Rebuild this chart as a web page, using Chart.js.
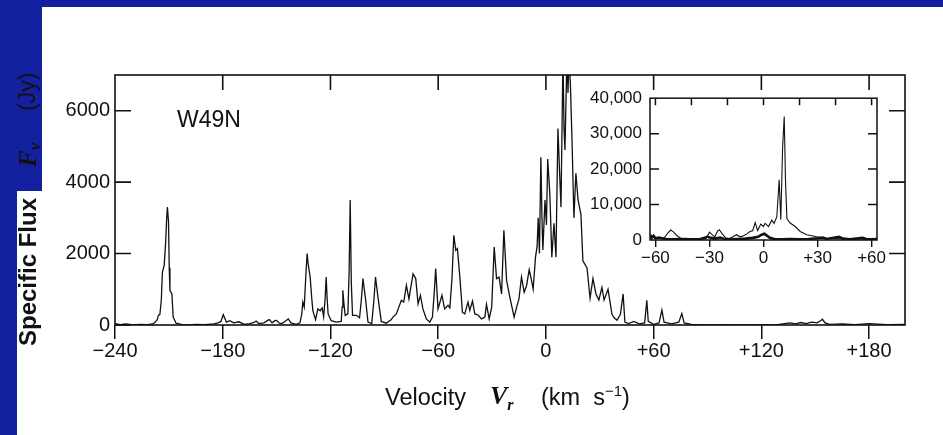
<!DOCTYPE html>
<html>
<head>
<meta charset="utf-8">
<script src="https://cdn.jsdelivr.net/npm/chart.js@4.4.1/dist/chart.umd.min.js"></script>
<style>
  html, body { margin:0; padding:0; background:#fff; }
  body { width:943px; height:435px; position:relative; overflow:hidden; font-family:"Liberation Sans", Arial, sans-serif; color:#111; }
  .blue { position:absolute; background:#1321a1; }
  canvas { position:absolute; }
  .txt { position:absolute; white-space:pre; color:#111; }
  .rot { position:absolute; white-space:pre; transform:rotate(-90deg); transform-origin:0 0; color:#111; }
</style>
</head>
<body>
<div class="blue" style="left:0;top:0;width:943px;height:7px"></div>
<div class="blue" style="left:0;top:0;width:17px;height:435px"></div>
<div class="blue" style="left:0;top:0;width:42px;height:191px"></div>

<canvas id="main" width="943" height="435" style="left:0;top:0"></canvas>
<canvas id="inset" width="360" height="190" style="left:540px;top:80px"></canvas>

<div class="rot" style="left:15px;top:346px;font:bold 24px 'Liberation Sans';line-height:25px">Specific Flux</div>
<div class="rot" style="left:15px;top:167px;font:italic bold 25px 'Liberation Serif';line-height:25px">F<span style="font-size:17px;position:relative;top:4px">ν</span></div>
<div class="rot" style="left:15px;top:111px;font:23px 'Liberation Sans';line-height:25px">(Jy)</div>

<div class="txt" style="left:177px;top:108px;font:23px 'Liberation Sans';line-height:23px">W49N</div>

<div class="txt" style="left:385px;top:385px;font:23.5px 'Liberation Sans';line-height:25px">Velocity</div>
<div class="txt" style="left:490px;top:383px;font:italic bold 26px 'Liberation Serif';line-height:26px">V<span style="font-size:16px;position:relative;top:6px">r</span></div>
<div class="txt" style="left:541px;top:385px;font:23.5px 'Liberation Sans';line-height:25px">(km  s<span style="font-size:15px;position:relative;top:-9px">−1</span>)</div>

<script>
// ---------- main spectrum (W49N) ----------
const velocity = [
 -240,-237,-234,-230,-226,-222,-219,-217.5,-216.5,-215.8,-215,-214.2,-213.6,-212.6,-211.8,-211.2,-210.8,-210.2,-209.8,-209.4,
 -208.3,-207.6,-206,-203,-199,-195,-190,-185,-182.5,-181,-179.7,-178.5,-178,-176,-174,-171,-168,-165,-162.5,-161.4,
 -160,-157,-155,-154,-152.5,-151,-150,-148.5,-147,-145,-143.5,-142,-139,-137,-136,-135.4,-134.6,-133.8,-133,-132.4,
 -131.3,-130.5,-129.8,-128.3,-127,-125.7,-124.6,-123.8,-123,-122.4,-121.8,-121.3,-119.6,-116.8,-114,-113.5,-113.1,-112.5,-111.8,-110.3,
 -109.6,-109,-108.4,-107.7,-105.6,-103.8,-102.8,-101.9,-100.4,-99.1,-97,-95.8,-94.9,-93.6,-91.7,-88.9,-86.1,-85.2,-83.3,-80.5,
 -79.2,-77.7,-76.3,-74,-72.5,-71.2,-69.9,-68.5,-66.6,-64.7,-63.2,-62.2,-61.4,-60.1,-57.9,-56.4,-54.5,-53.5,-52.3,-51.3,
 -50.2,-49.3,-48,-46.5,-45.2,-43.4,-42.4,-40.9,-39.6,-37.8,-35.9,-34,-33.1,-31.6,-30.2,-28.8,-27.5,-26.1,-24.7,-23.4,
 -21.9,-20.1,-17.7,-16.3,-15,-13.6,-12.1,-10.8,-9.3,-8.2,-7.1,-5.8,-4.9,-4.3,-3.6,-2.8,-2.2,-1.7,-0.5,0.3,
 1.0,2.2,3.3,4.5,5.6,6.7,7.6,8.4,9.5,10.1,10.6,11.7,12.3,12.8,13.6,14.5,15.6,16.7,17.9,19.5,
 20.6,22.9,24.6,26.2,27.9,29.5,31.2,32.4,34.6,36.8,38,39.6,41.5,43,44,46,49,52,55,56.2,
 57,60,63,64.6,65.8,70,74,75.7,77,81,90,100,110,120,128,133,136,139,142,145,
 148,151,153,154,155.5,158,165,172,180,190,200
];
const flux = [
 40,10,30,0,20,10,30,80,150,270,300,700,1480,1670,2300,3000,3300,2900,1600,970,
 870,220,50,20,0,20,10,30,60,100,290,150,80,120,60,90,20,40,70,110,
 40,60,130,150,60,120,130,50,40,110,170,60,20,60,300,640,500,1300,2000,1700,
 1340,800,400,150,450,400,480,230,700,1340,700,310,120,80,100,500,970,600,270,310,
 1500,3500,1200,270,270,200,700,1300,700,80,40,700,1340,800,100,50,150,220,310,690,
 640,1110,730,1430,1300,590,830,450,170,80,220,900,1580,450,830,450,550,480,1300,2510,
 2090,2140,1390,360,310,640,410,670,310,280,170,220,575,170,500,2180,1300,1340,870,2650,
 1250,780,220,500,730,1340,920,1100,1550,1300,1010,1900,2200,3000,2000,4700,3000,2100,3500,2800,
 4650,3650,1900,2850,1900,5500,4300,3300,7500,5500,4900,7500,6500,7500,6800,5250,3000,4250,3500,3100,
 1800,1600,750,1300,870,700,1050,700,1000,300,200,130,300,870,80,40,100,30,60,690,
 100,20,60,420,80,30,80,320,60,20,0,10,0,10,0,40,60,30,70,40,
 80,60,120,160,60,20,30,10,40,10,20
];
const xTickValues = [-240,-180,-120,-60,0,60,120,180];
const xTickLabels = ['\u2212240','\u2212180','\u2212120','\u221260','0','+60','+120','+180'];
const xTopTicks = [-180,-120,-60,0,60,120,180];
const yTickValues = [0,2000,4000,6000];
const yTickLabels = ['0','2000','4000','6000'];
const ySideTicks = [2000,4000,6000];

// ---------- inset spectrum (full scale) ----------
const insetVelocity = [
 -63,-61,-59,-57,-55,-53,-51.5,-50,-48,-46,-44,-40,-36,-32,-30,-28.5,-27,-25.5,-24.5,-23,
 -21,-19,-17,-15,-13,-11,-9,-7.5,-6,-4.6,-3.3,-1.5,0,0.9,2.8,4.6,5.9,7.4,8.7,9.6,
 10.6,11.5,12.2,13,14.8,17.6,20.4,24,29.6,35,40,45,50,55,60,63
];
const insetFlux = [
 1200,800,500,600,700,2000,2800,2300,1200,500,300,200,200,300,2200,1500,900,2500,2900,1800,
 600,400,900,1500,900,1200,1800,2400,2600,4900,2700,4500,3800,4700,3800,5600,4700,6600,17000,5700,
 26000,34800,17000,6000,4800,3800,2400,1500,900,500,400,300,300,400,300,200
];
const insetLowVelocity = [
 -63,-62,-61,-60,-58,-56,-54,-50,-45,-40,-35,-31,-29,-27,-24,-22,-18,-14,-10,-6,
 -3,-1,0.5,2,3.5,6,10,15,20,25,30,33,35,42,44,48,55,57,60,63
];
const insetLowFlux = [
 1500,600,1200,500,700,400,300,200,300,200,300,900,600,400,700,300,200,300,400,600,
 900,1500,1800,1200,600,300,200,300,200,300,500,700,300,900,400,200,600,300,200,300
];
const insetXTickValues = [-60,-30,0,30,60];
const insetXTickLabels = ['\u221260','\u221230','0','+30','+60'];
const insetTopTicks = [-60,-40,-20,0,20,40,60];
const insetYTickValues = [0,10000,20000,30000,40000];
const insetYTickLabels = ['0','10,000','20,000','30,000','40,000'];
const insetSideTicks = [10000,20000,30000];

// plugin: frame box and inward ticks (positions from the chart's own scales)
const frameTicks = {
  id: 'frameTicks',
  afterDatasetsDraw(chart, args, o) {
    const {ctx, chartArea: a, scales} = chart;
    ctx.save();
    ctx.strokeStyle = '#111';
    ctx.lineWidth = o.lineWidth;
    ctx.strokeRect(a.left, a.top, a.right - a.left, a.bottom - a.top);
    ctx.beginPath();
    for (const v of o.top) {
      const x = scales.x.getPixelForValue(v);
      ctx.moveTo(x, a.top); ctx.lineTo(x, a.top + o.topLen);
    }
    for (const v of o.left) {
      const y = scales.y.getPixelForValue(v);
      ctx.moveTo(a.left, y); ctx.lineTo(a.left + o.sideLen, y);
    }
    for (const v of o.right) {
      const y = scales.y.getPixelForValue(v);
      ctx.moveTo(a.right, y); ctx.lineTo(a.right - o.sideLen, y);
    }
    ctx.stroke();
    ctx.restore();
  }
};

function pts(xs, ys) { return xs.map((v, i) => ({x: v, y: ys[i]})); }

new Chart(document.getElementById('main'), {
  type: 'line',
  data: { datasets: [{
    data: pts(velocity, flux),
    borderColor: '#111', borderWidth: 1.3, pointRadius: 0, tension: 0, fill: false
  }]},
  options: {
    responsive: false, animation: false, devicePixelRatio: 1,
    layout: { padding: { left: 55, top: 75, right: 38, bottom: 60 } },
    plugins: {
      legend: { display: false }, tooltip: { enabled: false },
      frameTicks: { lineWidth: 1.6, top: xTopTicks, left: yTickValues, right: ySideTicks, topLen: 15, sideLen: 16 }
    },
    scales: {
      x: {
        type: 'linear', min: -240, max: 200,
        afterBuildTicks: s => { s.ticks = xTickValues.map(v => ({value: v})); },
        afterFit: s => { s.height = 50; },
        grid: { drawOnChartArea: false, drawTicks: true, tickLength: 14, color: '#111', lineWidth: 1.5 },
        border: { display: false },
        ticks: { autoSkip: false, maxRotation: 0, padding: 0, color: '#111',
                 font: { family: 'Liberation Sans', size: 20 },
                 callback: (v, i) => xTickLabels[i] }
      },
      y: {
        type: 'linear', min: 0, max: 7000,
        afterBuildTicks: s => { s.ticks = yTickValues.map(v => ({value: v})); },
        afterFit: s => { s.width = 60; },
        grid: { drawOnChartArea: false, drawTicks: false },
        border: { display: false },
        ticks: { autoSkip: false, padding: 5, color: '#111',
                 font: { family: 'Liberation Sans', size: 20 },
                 callback: (v, i) => yTickLabels[i] }
      }
    }
  },
  plugins: [frameTicks]
});

new Chart(document.getElementById('inset'), {
  type: 'line',
  data: { datasets: [
    { data: pts(insetVelocity, insetFlux), borderColor: '#111', borderWidth: 1.1, pointRadius: 0, tension: 0, fill: false },
    { data: pts(insetLowVelocity, insetLowFlux), borderColor: '#111', borderWidth: 2.6, pointRadius: 0, tension: 0, fill: false }
  ]},
  options: {
    responsive: false, animation: false, devicePixelRatio: 1,
    layout: { padding: { left: 40, top: 17, right: 23, bottom: 5 } },
    plugins: {
      legend: { display: false }, tooltip: { enabled: false },
      frameTicks: { lineWidth: 1.5, top: insetTopTicks, left: insetSideTicks, right: insetSideTicks, topLen: 7, sideLen: 9 }
    },
    scales: {
      x: {
        type: 'linear', min: -63, max: 63,
        afterBuildTicks: s => { s.ticks = insetXTickValues.map(v => ({value: v})); },
        afterFit: s => { s.height = 25; },
        grid: { drawOnChartArea: false, drawTicks: true, tickLength: 7, color: '#111', lineWidth: 1.4 },
        border: { display: false },
        ticks: { autoSkip: false, maxRotation: 0, padding: 1, color: '#111',
                 font: { family: 'Liberation Sans', size: 17 },
                 callback: (v, i) => insetXTickLabels[i] }
      },
      y: {
        type: 'linear', min: 0, max: 40000,
        afterBuildTicks: s => { s.ticks = insetYTickValues.map(v => ({value: v})); },
        afterFit: s => { s.width = 70; },
        grid: { drawOnChartArea: false, drawTicks: false },
        border: { display: false },
        ticks: { autoSkip: false, padding: 8, color: '#111',
                 font: { family: 'Liberation Sans', size: 17 },
                 callback: (v, i) => insetYTickLabels[i] }
      }
    }
  },
  plugins: [frameTicks]
});
</script>
</body>
</html>
